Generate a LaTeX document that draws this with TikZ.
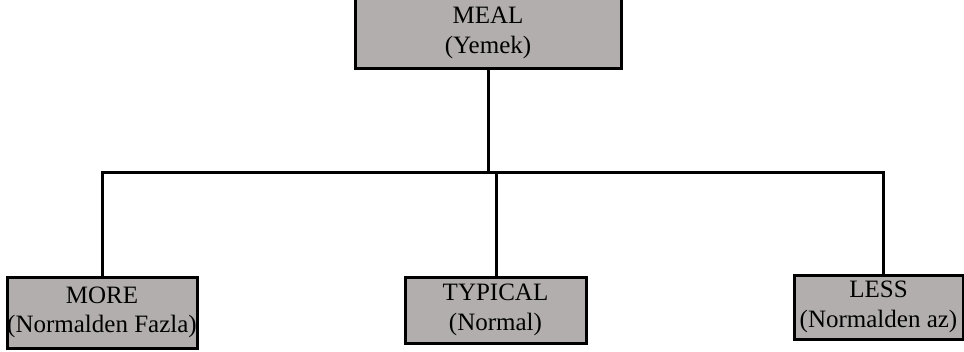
\documentclass[tikz,border=0pt]{standalone}
\usepackage{fontspec}
\setmainfont{Liberation Serif}
\definecolor{boxgray}{RGB}{178,174,174}
\begin{document}
\begin{tikzpicture}[x=1pt,y=-1pt,
  box/.style={draw=black,fill=boxgray,line width=3pt,inner sep=0pt,align=center,
    font=\fontsize{25}{29.5}\selectfont},
  conn/.style={line width=3pt,line cap=rect}]
\useasboundingbox (0,0) rectangle (964,351);
\node[box,minimum width=266pt,minimum height=70pt] (meal) at (488,33) {MEAL\\(Yemek)};
\node[box,minimum width=190pt,minimum height=71pt] (more) at (102,312.5) {MORE\\(Normalden Fazla)};
\node[box,minimum width=181pt,minimum height=66pt] (typ) at (495.5,310) {TYPICAL\\(Normal)};
\node[box,minimum width=169pt,minimum height=64pt] (less) at (878.5,307) {LESS\\(Normalden az)};
\coordinate (bus) at (488,172.5);
\coordinate (lesstop) at (883,275);
\coordinate (typtop) at (496.5,277);
\draw[conn] (meal.south) -- (bus);
\draw[conn] (more.north) -- (more.north |- bus) -- (lesstop |- bus) -- (lesstop);
\draw[conn] (typtop) -- (typtop |- bus);
\end{tikzpicture}
\end{document}
